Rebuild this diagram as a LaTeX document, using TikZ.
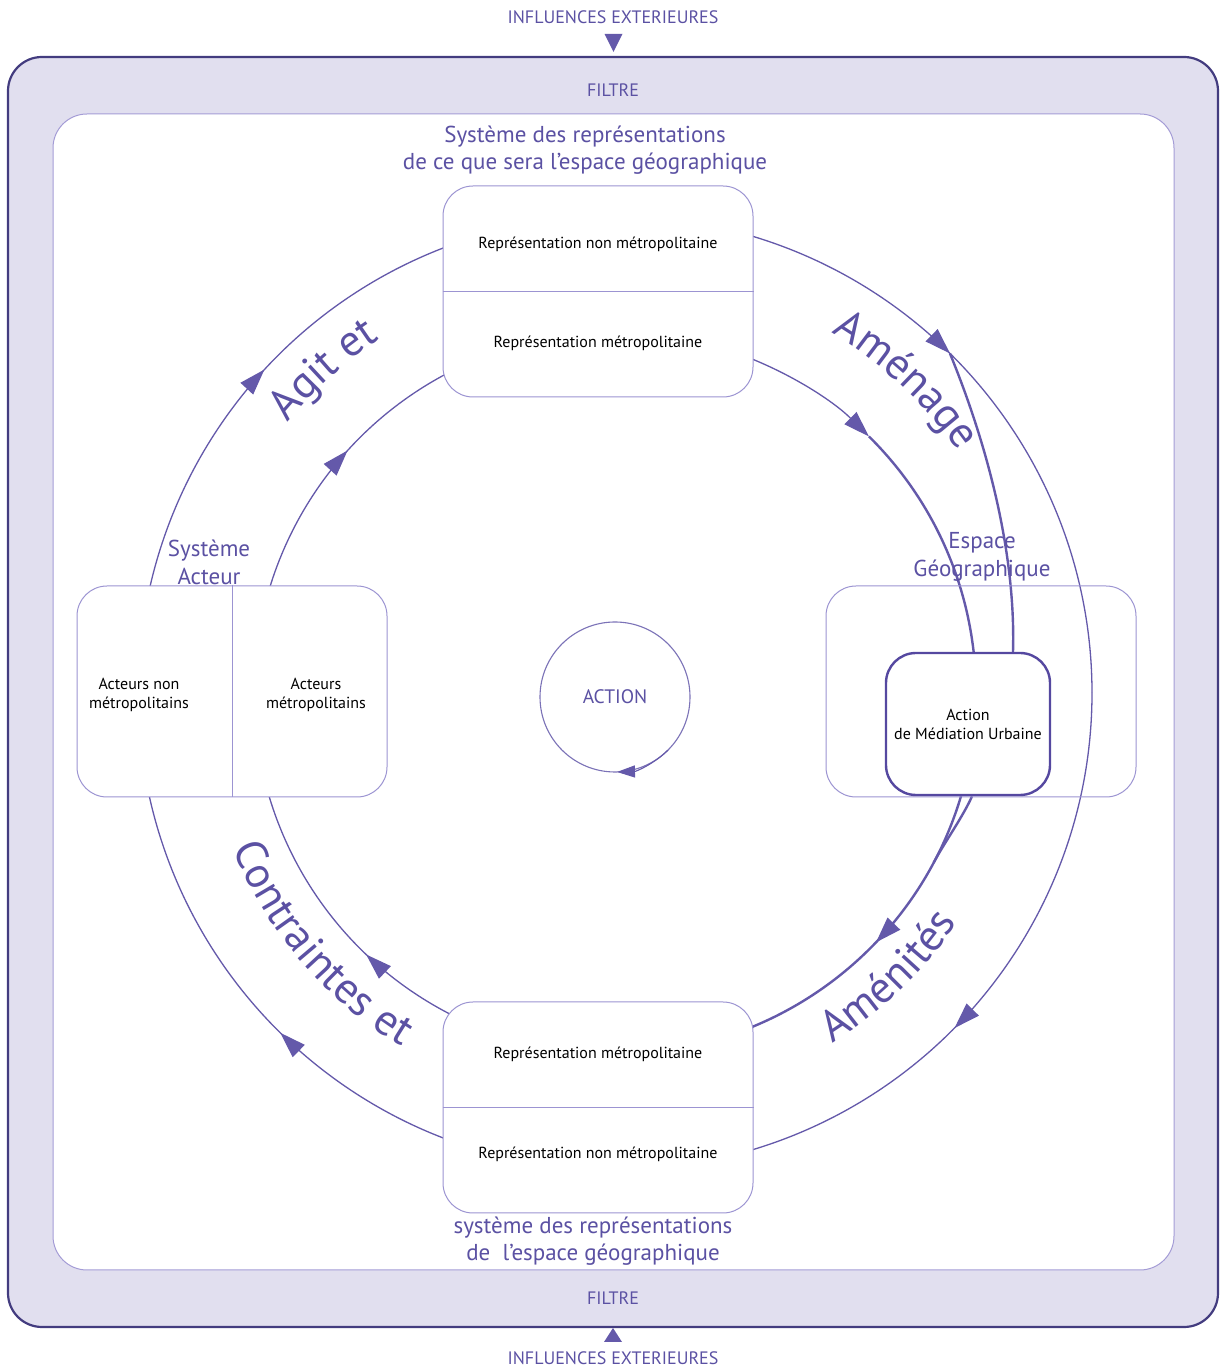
\documentclass[tikz,border=0pt]{standalone}
\usepackage{fontspec}
\setmainfont{PT Sans}
\usetikzlibrary{arrows.meta,decorations.text,decorations.markings,calc}
\definecolor{framefill}{HTML}{E1DFEF}
\definecolor{framedraw}{HTML}{433C7F}
\definecolor{innerdraw}{HTML}{A49CD6}
\definecolor{boxdraw}{HTML}{9C94D2}
\definecolor{txt}{HTML}{5B51A3}
\definecolor{ln}{HTML}{6459AA}
\definecolor{actdraw}{HTML}{5548A0}
\pgfdeclarelayer{back}
\pgfdeclarelayer{bg}
\pgfsetlayers{back,bg,main}
\newcommand{\bigfont}{\fontsize{44}{44}\selectfont}
\tikzset{
  rbox/.style={draw=boxdraw, line width=1pt, fill=white, rounded corners=30pt,
    minimum width=310pt, minimum height=211pt, inner sep=0pt},
  lbl/.style={text=black, font=\fontsize{16}{19}\selectfont, align=center, inner sep=0pt},
  capt/.style={text=txt, font=\fontsize{23}{27}\selectfont, align=center, inner sep=0pt},
  capsx/.style={text=txt, font=\fontsize{18}{20}\selectfont, inner sep=0pt},
  lnA/.style={color=ln, line width=1.3pt},
  lnB/.style={color=ln, line width=2.4pt},
  endtip/.style={-{Triangle[length=26pt,width=17pt]}},
  midtip/.style={postaction={decorate, decoration={markings,
    mark=at position #1 with {\arrow{Triangle[length=26pt,width=17pt]}}}}},
  ctext/.style={decorate, decoration={text along path, text align=center,
    text={|\bigfont\color{txt}|#1}}},
}
\begin{document}
\begin{tikzpicture}[x=1pt,y=1pt]
\useasboundingbox (0,0) rectangle (1219,1369);
\coordinate (c) at (615,676);
\begin{pgfonlayer}{back}
\node[draw=framedraw, fill=framefill, line width=2.2pt, rounded corners=34pt,
  minimum width=1210pt, minimum height=1270pt, inner sep=0pt] (frame) at (613,677) {};
\node[draw=innerdraw, fill=white, line width=1pt, rounded corners=34pt,
  minimum width=1121pt, minimum height=1156pt, inner sep=0pt] (inner) at (613.5,677) {};
\end{pgfonlayer}

% outer labels
\node[capsx] (inflT) at (613,1352) {INFLUENCES EXTERIEURES};
\fill[ln] (604.5,1335) -- (622.5,1335) -- (613.5,1317) -- cycle;
\node[capsx] (filT) at (613,1279) {FILTRE};
\node[capsx] (filB) at (613,71) {FILTRE};
\node[capsx] (inflB) at (613,11) {INFLUENCES EXTERIEURES};
\fill[ln] (604,27) -- (622,27) -- (613,41) -- cycle;

% captions
\node[capt] (capT) at (585,1218.5) {Système des représentations\\de ce que sera l’espace géographique};
\node[capt] (capB) at (593,127.5) {système des représentations\\de\ \ l’espace géographique};

% top box
\node[rbox] (top) at (598,1077.5) {};
\draw[draw=boxdraw, line width=1pt] (top.west) -- (top.east);
\node[lbl] (t1) at (598,1125) {Représentation non métropolitaine};
\node[lbl] (t2) at (598,1026) {Représentation métropolitaine};

% bottom box
\node[rbox] (bot) at (598,261.5) {};
\draw[draw=boxdraw, line width=1pt] (bot.west) -- (bot.east);
\node[lbl] (b1) at (598,315) {Représentation métropolitaine};
\node[lbl] (b2) at (598,215) {Représentation non métropolitaine};

% acteurs box
\node[rbox] (acteurs) at (232,677.5) {};
\draw[draw=boxdraw, line width=1pt] (acteurs.north) -- (acteurs.south);
\node[lbl] (a1) at (139,674) {Acteurs non\\métropolitains};
\node[lbl] (a2) at (316,674) {Acteurs\\métropolitains};
\node[capt, font=\fontsize{23}{28}\selectfont] (sysA) at (209,807) {Système\\Acteur};

% espace geographique
\node[rbox, fill=none] (geo) at (981,677.5) {};
\node[lbl, draw=actdraw, line width=2.4pt, fill=white, rounded corners=30pt,
  minimum width=164pt, minimum height=142pt] (act) at (968,645) {Action\\de Médiation Urbaine};
\node[capt, font=\fontsize{23}{28}\selectfont] (espG) at (982,812) {Espace\\Géographique};

% action circle
\node[circle, draw=ln!85, line width=1.1pt, minimum size=150pt, inner sep=0pt,
  text=txt, font=\fontsize{19.5}{20}\selectfont] (ac) at (615,672) {ACTION};
\draw[color=ln, line width=1.1pt, -{Triangle[length=18pt,width=12pt]}]
  ($(ac.center)+(-45:75)$) arc (-45:-88.5:75);

\begin{pgfonlayer}{bg}
\draw[lnA, midtip=0.503] ($(c)+(170:477)$) arc (170:105:477);
\draw[lnA, midtip=0.395] ($(c)+(75:477)$) arc (75:0:477);
\draw[lnA, midtip=0.595] ($(c)+(0:477)$) arc (0:-75:477);
\draw[lnA, midtip=0.455] ($(c)+(255:477)$) arc (255:190:477);
\draw[lnA, midtip=0.6] ($(c)+(172:361)$) arc (172:115:361);
\draw[lnA, endtip] ($(c)+(70:361)$) arc (70:45.3:361);
\draw[lnB, midtip=0.772] ($(c)+(45.3:361)$) arc (45.3:-70:361);
\draw[lnA, midtip=0.326] ($(c)+(245:361)$) arc (245:188:361);
\draw[lnB] ($(c)+(45.4:477)$) .. controls (985,930) and (1016,820) .. ($(act.north)+(45,0)$);
\draw[lnB] ($(act.south)+(4,0)$) .. controls (964,554) and (943,524) .. ($(c)+(-28:361)$);
\end{pgfonlayer}

% curved labels
\path[ctext={Agit et}] ($(c)+(160:425)$) arc (160:104:425);
\path[ctext={Aménage}] ($(c)+(75:420)$) arc (75:19:420);
\path[ctext={Aménités}] ($(c)+(-76:412)$) arc (-76:-16:412);
\path[ctext={Contraintes et}] ($(c)+(190:413)$) arc (190:251:413);
\end{tikzpicture}
\end{document}
